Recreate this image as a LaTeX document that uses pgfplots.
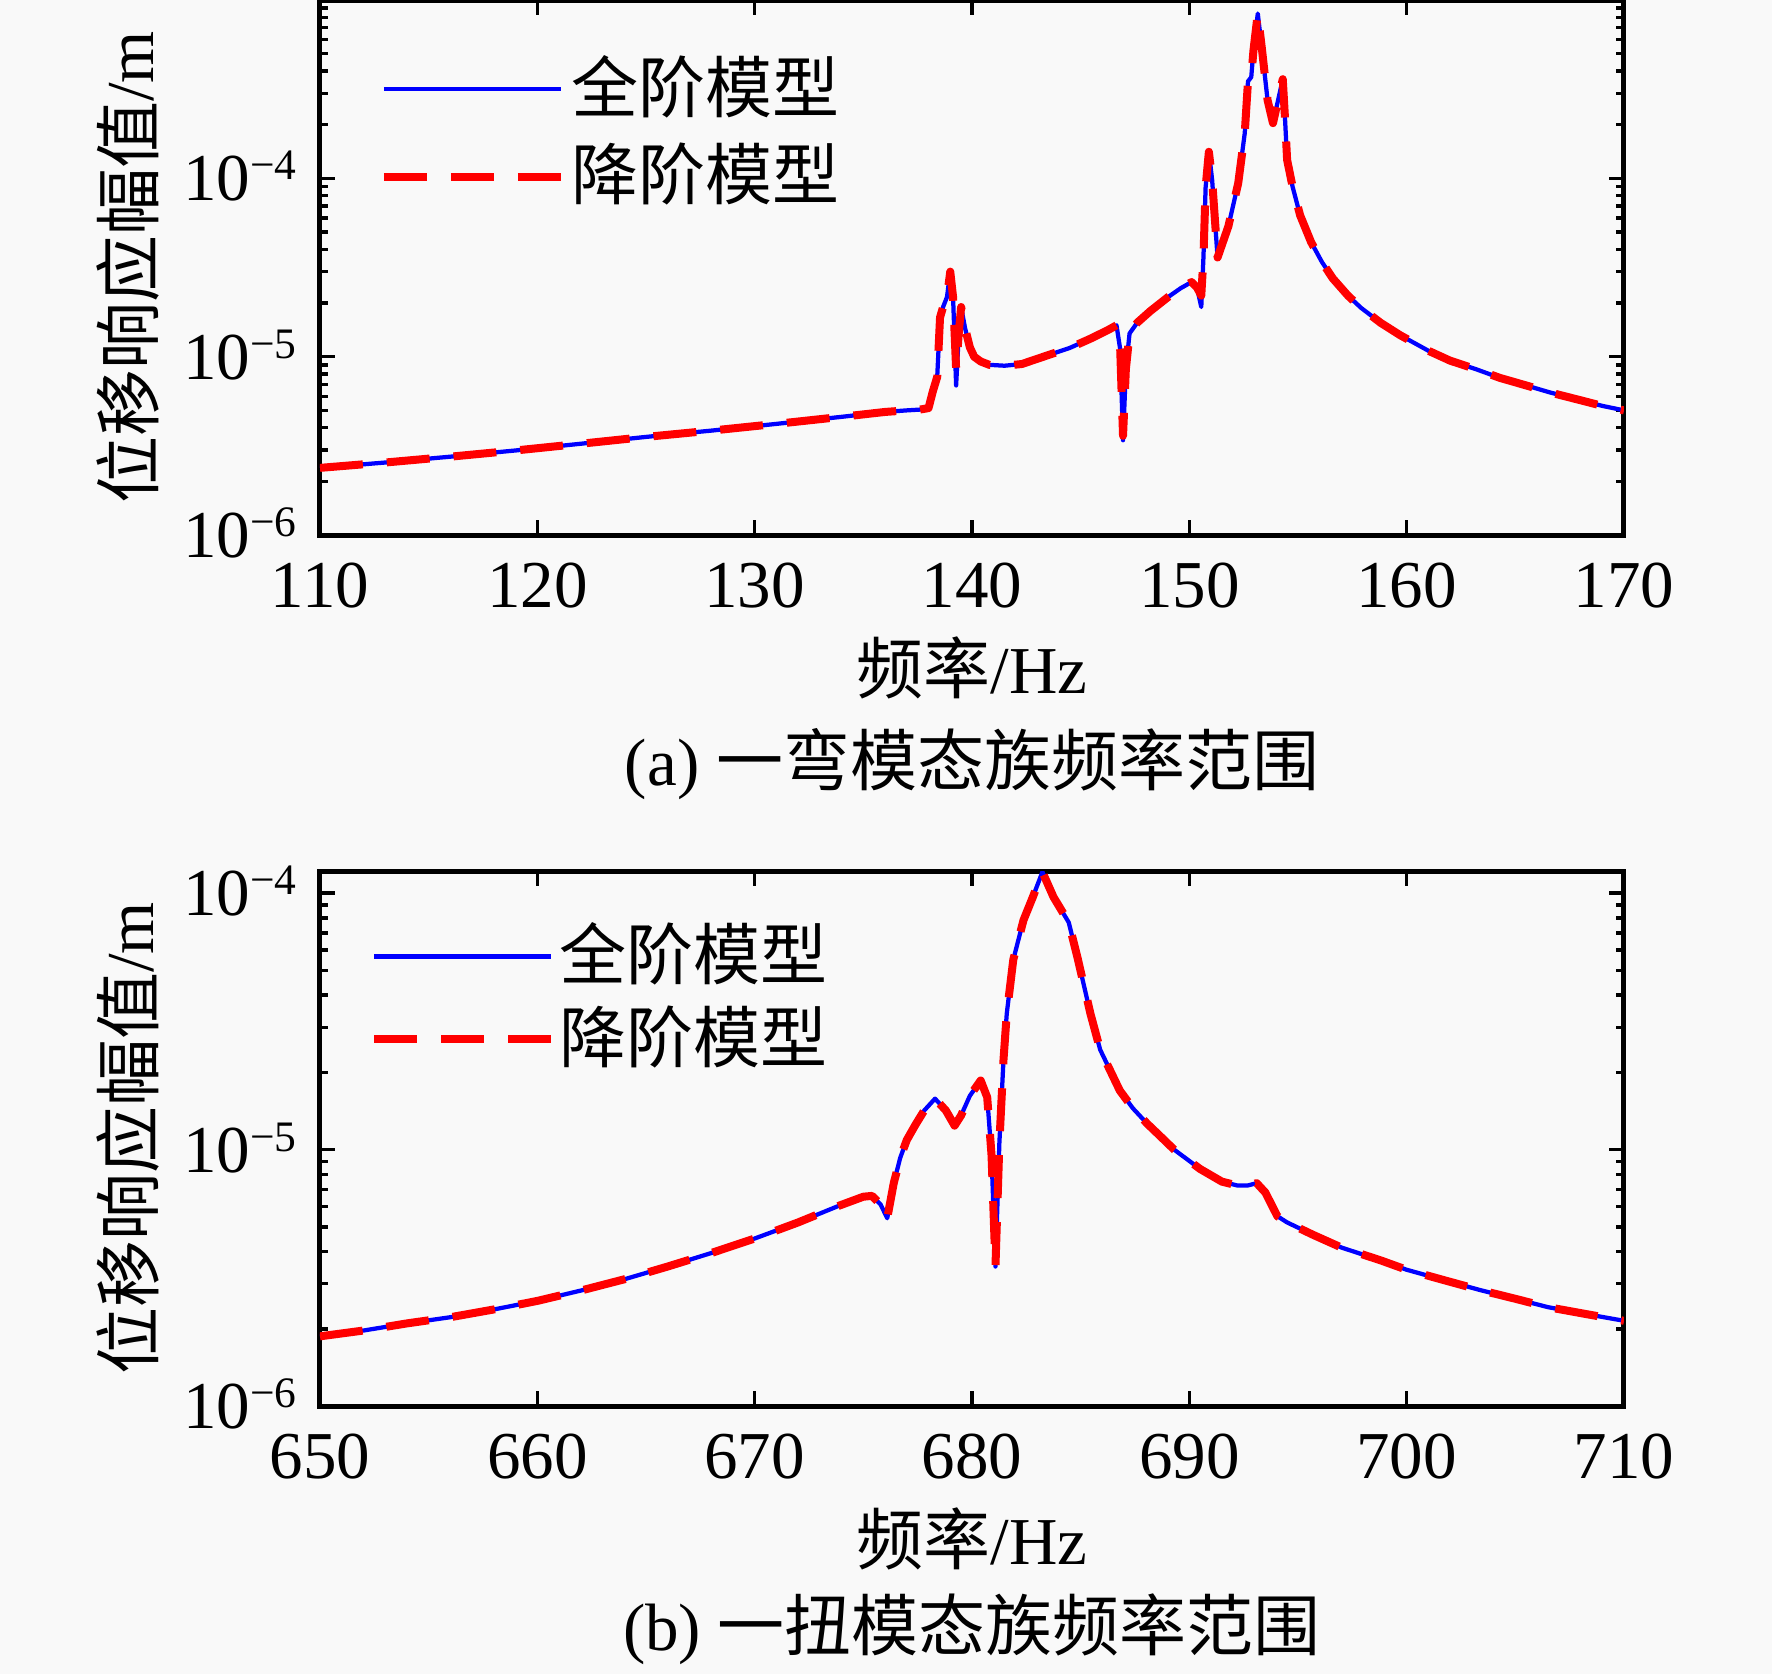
\documentclass[border=0pt]{standalone}
\usepackage{fontspec}
\setmainfont{Liberation Serif}
\newfontfamily\cjk{Noto Sans CJK SC}
\usepackage{pgfplots}
\pgfplotsset{compat=1.18}
\definecolor{bg}{RGB}{249,249,249}
\newcommand{\tl}[1]{10\raisebox{4.2pt}{\fontsize{8.7pt}{9pt}\selectfont −#1}}
\pgfplotsset{myax/.style={
  scale only axis, width=260.8pt, height=107pt,
  axis line style={line width=1pt},
  tick style={black, line width=0.7pt},
  major tick length=3pt, minor tick length=1.6pt,
  tick align=inside,
  /pgf/number format/assume math mode=true,
  xticklabel style={yshift=-1pt},
  yticklabel style={anchor=base east, yshift=-4.5pt},
  legend cell align=left,
  legend image code/.code={\draw[##1] (0pt,0pt) -- (35.4pt,0pt);},
  legend style={draw=none, fill=none, inner sep=0pt, nodes={inner sep=0pt}},
}}
\begin{document}
\fontsize{13.4pt}{16pt}\selectfont%
\begin{tikzpicture}
\fill[bg] (0pt,0pt) rectangle (354.4pt,-334.8pt);
% ---------------- (a) ----------------
\begin{axis}[ymode=log, myax, at={(64pt,-107pt)}, anchor=south west,
  xmin=110, xmax=170, ymin=1e-6, ymax=1e-3,
  xtick={110,120,...,170},
  ytick={1e-6,1e-5,1e-4}, yticklabels={\tl{6},\tl{5},\tl{4}},
  minor ytick={2e-6,3e-6,4e-6,5e-6,6e-6,7e-6,8e-6,9e-6,2e-5,3e-5,4e-5,5e-5,6e-5,7e-5,8e-5,9e-5,2e-4,3e-4,4e-4,5e-4,6e-4,7e-4,8e-4,9e-4},
  legend style={at={(0.0452,0.8977)}, anchor=north west, row sep=4.1pt, column sep=1.4pt},
]
\addplot[blue, line width=0.85pt, line join=round] coordinates {
(110,2.38e-6) (113,2.55e-6) (116,2.75e-6) (119,2.98e-6) (122,3.25e-6) (125,3.55e-6)
(128,3.85e-6) (131,4.2e-6) (134,4.6e-6) (136,4.9e-6) (137,5.0e-6) (137.6,5.05e-6)
(138.0,5.15e-6) (138.2,6.4e-6) (138.4,7.7e-6) (138.53,1.66e-5) (138.67,1.9e-5) (138.85,2.16e-5)
(139.0,3.0e-5) (139.13,2.16e-5) (139.27,6.9e-6) (139.4,1.4e-5) (139.5,1.9e-5) (139.68,1.45e-5)
(139.9,1.13e-5) (140.1,1.0e-5) (140.4,9.4e-6) (140.8,9.0e-6) (141.5,8.9e-6) (142.3,9.1e-6)
(143.5,1.02e-5) (144.5,1.12e-5) (145.5,1.27e-5) (146.3,1.42e-5) (146.65,1.5e-5) (146.82,1.1e-5)
(146.95,3.4e-6) (147.08,8.5e-6) (147.25,1.35e-5) (147.6,1.55e-5) (148.2,1.8e-5) (149.0,2.15e-5)
(149.6,2.42e-5) (150.1,2.62e-5) (150.35,2.45e-5) (150.55,1.9e-5) (150.65,3.6e-5) (150.75,8.9e-5)
(150.9,1.41e-4) (151.05,9.8e-5) (151.3,3.6e-5) (151.8,5.4e-5) (152.25,9.4e-5) (152.55,1.79e-4)
(152.7,3.5e-4) (152.85,3.7e-4) (152.95,5.2e-4) (153.15,8.4e-4) (153.35,5.2e-4) (153.6,2.75e-4)
(153.85,2.04e-4) (154.1,2.8e-4) (154.3,3.6e-4) (154.4,2.2e-4) (154.5,1.27e-4) (154.75,9.0e-5)
(155.1,6.2e-5) (155.6,4.4e-5) (156.1,3.4e-5) (156.6,2.75e-5) (157.3,2.2e-5) (157.9,1.88e-5)
(158.8,1.55e-5) (159.7,1.32e-5) (161,1.08e-5) (162,9.5e-6) (163.2,8.5e-6) (164.3,7.6e-6)
(165.5,6.9e-6) (166.6,6.3e-6) (168,5.7e-6) (169,5.3e-6) (170,5.0e-6)
};
\addplot[red, line width=1.6pt, line join=round, dash pattern=on 8.6pt off 4.8pt] coordinates {
(110,2.38e-6) (113,2.55e-6) (116,2.75e-6) (119,2.98e-6) (122,3.25e-6) (125,3.55e-6)
(128,3.85e-6) (131,4.2e-6) (134,4.6e-6) (136,4.9e-6) (137,5.0e-6) (137.6,5.05e-6)
(138.0,5.15e-6) (138.2,6.4e-6) (138.4,7.7e-6) (138.53,1.66e-5) (138.67,1.9e-5) (138.85,2.16e-5)
(139.0,3.0e-5) (139.13,2.16e-5) (139.27,8.5e-6) (139.4,1.4e-5) (139.5,1.9e-5) (139.68,1.45e-5)
(139.9,1.13e-5) (140.1,1.0e-5) (140.4,9.4e-6) (140.8,9.0e-6) (141.5,8.9e-6) (142.3,9.1e-6)
(143.5,1.02e-5) (144.5,1.12e-5) (145.5,1.27e-5) (146.3,1.42e-5) (146.65,1.5e-5) (146.82,1.1e-5)
(146.95,3.6e-6) (147.08,8.5e-6) (147.25,1.35e-5) (147.6,1.55e-5) (148.2,1.8e-5) (149.0,2.15e-5)
(149.6,2.42e-5) (150.1,2.62e-5) (150.35,2.45e-5) (150.55,2.2e-5) (150.65,3.6e-5) (150.75,8.9e-5)
(150.9,1.41e-4) (151.05,9.8e-5) (151.3,3.6e-5) (151.8,5.4e-5) (152.25,9.4e-5) (152.55,1.79e-4)
(152.7,3.5e-4) (152.85,3.7e-4) (152.95,5.2e-4) (153.15,8.4e-4) (153.35,5.2e-4) (153.6,2.75e-4)
(153.85,2.04e-4) (154.1,2.8e-4) (154.3,3.6e-4) (154.4,2.2e-4) (154.5,1.27e-4) (154.75,9.0e-5)
(155.1,6.2e-5) (155.6,4.4e-5) (156.1,3.4e-5) (156.6,2.75e-5) (157.3,2.2e-5) (157.9,1.88e-5)
(158.8,1.55e-5) (159.7,1.32e-5) (161,1.08e-5) (162,9.5e-6) (163.2,8.5e-6) (164.3,7.6e-6)
(165.5,6.9e-6) (166.6,6.3e-6) (168,5.7e-6) (169,5.3e-6) (170,5.0e-6)
};
\legend{{\cjk 全阶模型},{\cjk 降阶模型}}
\end{axis}
% ---------------- (b) ----------------
\begin{axis}[ymode=log, myax, at={(64pt,-281.2pt)}, anchor=south west,
  xmin=650, xmax=710, ymin=1e-6, ymax=1.22e-4,
  xtick={650,660,...,710},
  ytick={1e-6,1e-5,1e-4}, yticklabels={\tl{6},\tl{5},\tl{4}},
  minor ytick={2e-6,3e-6,4e-6,5e-6,6e-6,7e-6,8e-6,9e-6,2e-5,3e-5,4e-5,5e-5,6e-5,7e-5,8e-5,9e-5},
  legend style={at={(0.0376,0.905)}, anchor=north west, row sep=3.1pt, column sep=0.8pt},
]
\addplot[blue, line width=0.85pt, line join=round] coordinates {
(650,1.87e-6) (652,1.97e-6) (654,2.1e-6) (656,2.22e-6) (658,2.38e-6) (660,2.57e-6)
(662,2.82e-6) (664,3.12e-6) (666,3.5e-6) (668,3.95e-6) (670,4.5e-6) (672,5.2e-6)
(673.9,6.05e-6) (675.0,6.55e-6) (675.4,6.6e-6) (675.8,6.1e-6) (676.1,5.4e-6) (676.4,7.4e-6)
(676.7,9.3e-6) (677.0,1.09e-5) (677.4,1.25e-5) (677.8,1.42e-5) (678.3,1.58e-5) (678.8,1.42e-5)
(679.2,1.24e-5) (679.5,1.36e-5) (679.9,1.62e-5) (680.4,1.86e-5) (680.7,1.6e-5) (680.9,9.5e-6)
(681.08,3.5e-6) (681.26,1.06e-5) (681.45,2.24e-5) (681.6,3.39e-5) (681.9,5.5e-5) (682.37,7.85e-5)
(682.8,9.66e-5) (683.24,1.21e-4) (683.75,9.66e-5) (684.45,7.7e-5) (684.85,5.63e-5) (685.45,3.39e-5)
(685.9,2.45e-5) (686.4,2.0e-5) (686.8,1.7e-5) (687.4,1.45e-5) (688.07,1.26e-5) (688.7,1.12e-5)
(689.3,1.0e-5) (690.5,8.4e-6) (691.5,7.5e-6) (692.2,7.25e-6) (692.7,7.25e-6) (693.1,7.4e-6)
(693.5,6.8e-6) (694.05,5.5e-6) (694.5,5.2e-6) (695.7,4.65e-6) (697,4.15e-6) (698.8,3.7e-6)
(700,3.4e-6) (701.7,3.1e-6) (703.4,2.83e-6) (705,2.62e-6) (706.5,2.43e-6) (708.3,2.28e-6)
(710,2.15e-6)
};
\addplot[red, line width=1.6pt, line join=round, dash pattern=on 8.6pt off 4.8pt] coordinates {
(650,1.87e-6) (652,1.97e-6) (654,2.1e-6) (656,2.22e-6) (658,2.38e-6) (660,2.57e-6)
(662,2.82e-6) (664,3.12e-6) (666,3.5e-6) (668,3.95e-6) (670,4.5e-6) (672,5.2e-6)
(673.9,6.05e-6) (675.0,6.55e-6) (675.4,6.6e-6) (675.8,6.1e-6) (676.1,5.4e-6) (676.4,7.4e-6)
(676.7,9.3e-6) (677.0,1.09e-5) (677.4,1.25e-5) (677.8,1.42e-5) (678.3,1.58e-5) (678.8,1.42e-5)
(679.2,1.24e-5) (679.5,1.36e-5) (679.9,1.62e-5) (680.4,1.86e-5) (680.7,1.6e-5) (680.9,9.5e-6)
(681.08,3.5e-6) (681.26,1.06e-5) (681.45,2.24e-5) (681.6,3.39e-5) (681.9,5.5e-5) (682.37,7.85e-5)
(682.8,9.66e-5) (683.24,1.21e-4) (683.75,9.66e-5) (684.45,7.7e-5) (684.85,5.63e-5) (685.45,3.39e-5)
(685.9,2.45e-5) (686.4,2.0e-5) (686.8,1.7e-5) (687.4,1.45e-5) (688.07,1.26e-5) (688.7,1.12e-5)
(689.3,1.0e-5) (690.5,8.4e-6) (691.5,7.5e-6) (692.2,7.25e-6) (692.7,7.25e-6) (693.1,7.4e-6)
(693.5,6.8e-6) (694.05,5.5e-6) (694.5,5.2e-6) (695.7,4.65e-6) (697,4.15e-6) (698.8,3.7e-6)
(700,3.4e-6) (701.7,3.1e-6) (703.4,2.83e-6) (705,2.62e-6) (706.5,2.43e-6) (708.3,2.28e-6)
(710,2.15e-6)
};
\legend{{\cjk 全阶模型},{\cjk 降阶模型}}
\end{axis}
% ---------------- labels ----------------
\node[rotate=90] at (25.6pt,-53.5pt) {{\cjk 位移响应幅值}/m};
\node[rotate=90] at (25.6pt,-227.7pt) {{\cjk 位移响应幅值}/m};
\node[anchor=base] at (194.4pt,-138.6pt) {{\cjk 频率}/Hz};
\node[anchor=base] at (194.4pt,-157pt) {(a) {\cjk 一弯模态族频率范围}};
\node[anchor=base] at (194.4pt,-312.8pt) {{\cjk 频率}/Hz};
\node[anchor=base] at (194.4pt,-330pt) {(b) {\cjk 一扭模态族频率范围}};
\pgfresetboundingbox
\useasboundingbox (0pt,0pt) rectangle (354.4pt,-334.8pt);
\end{tikzpicture}
\end{document}
